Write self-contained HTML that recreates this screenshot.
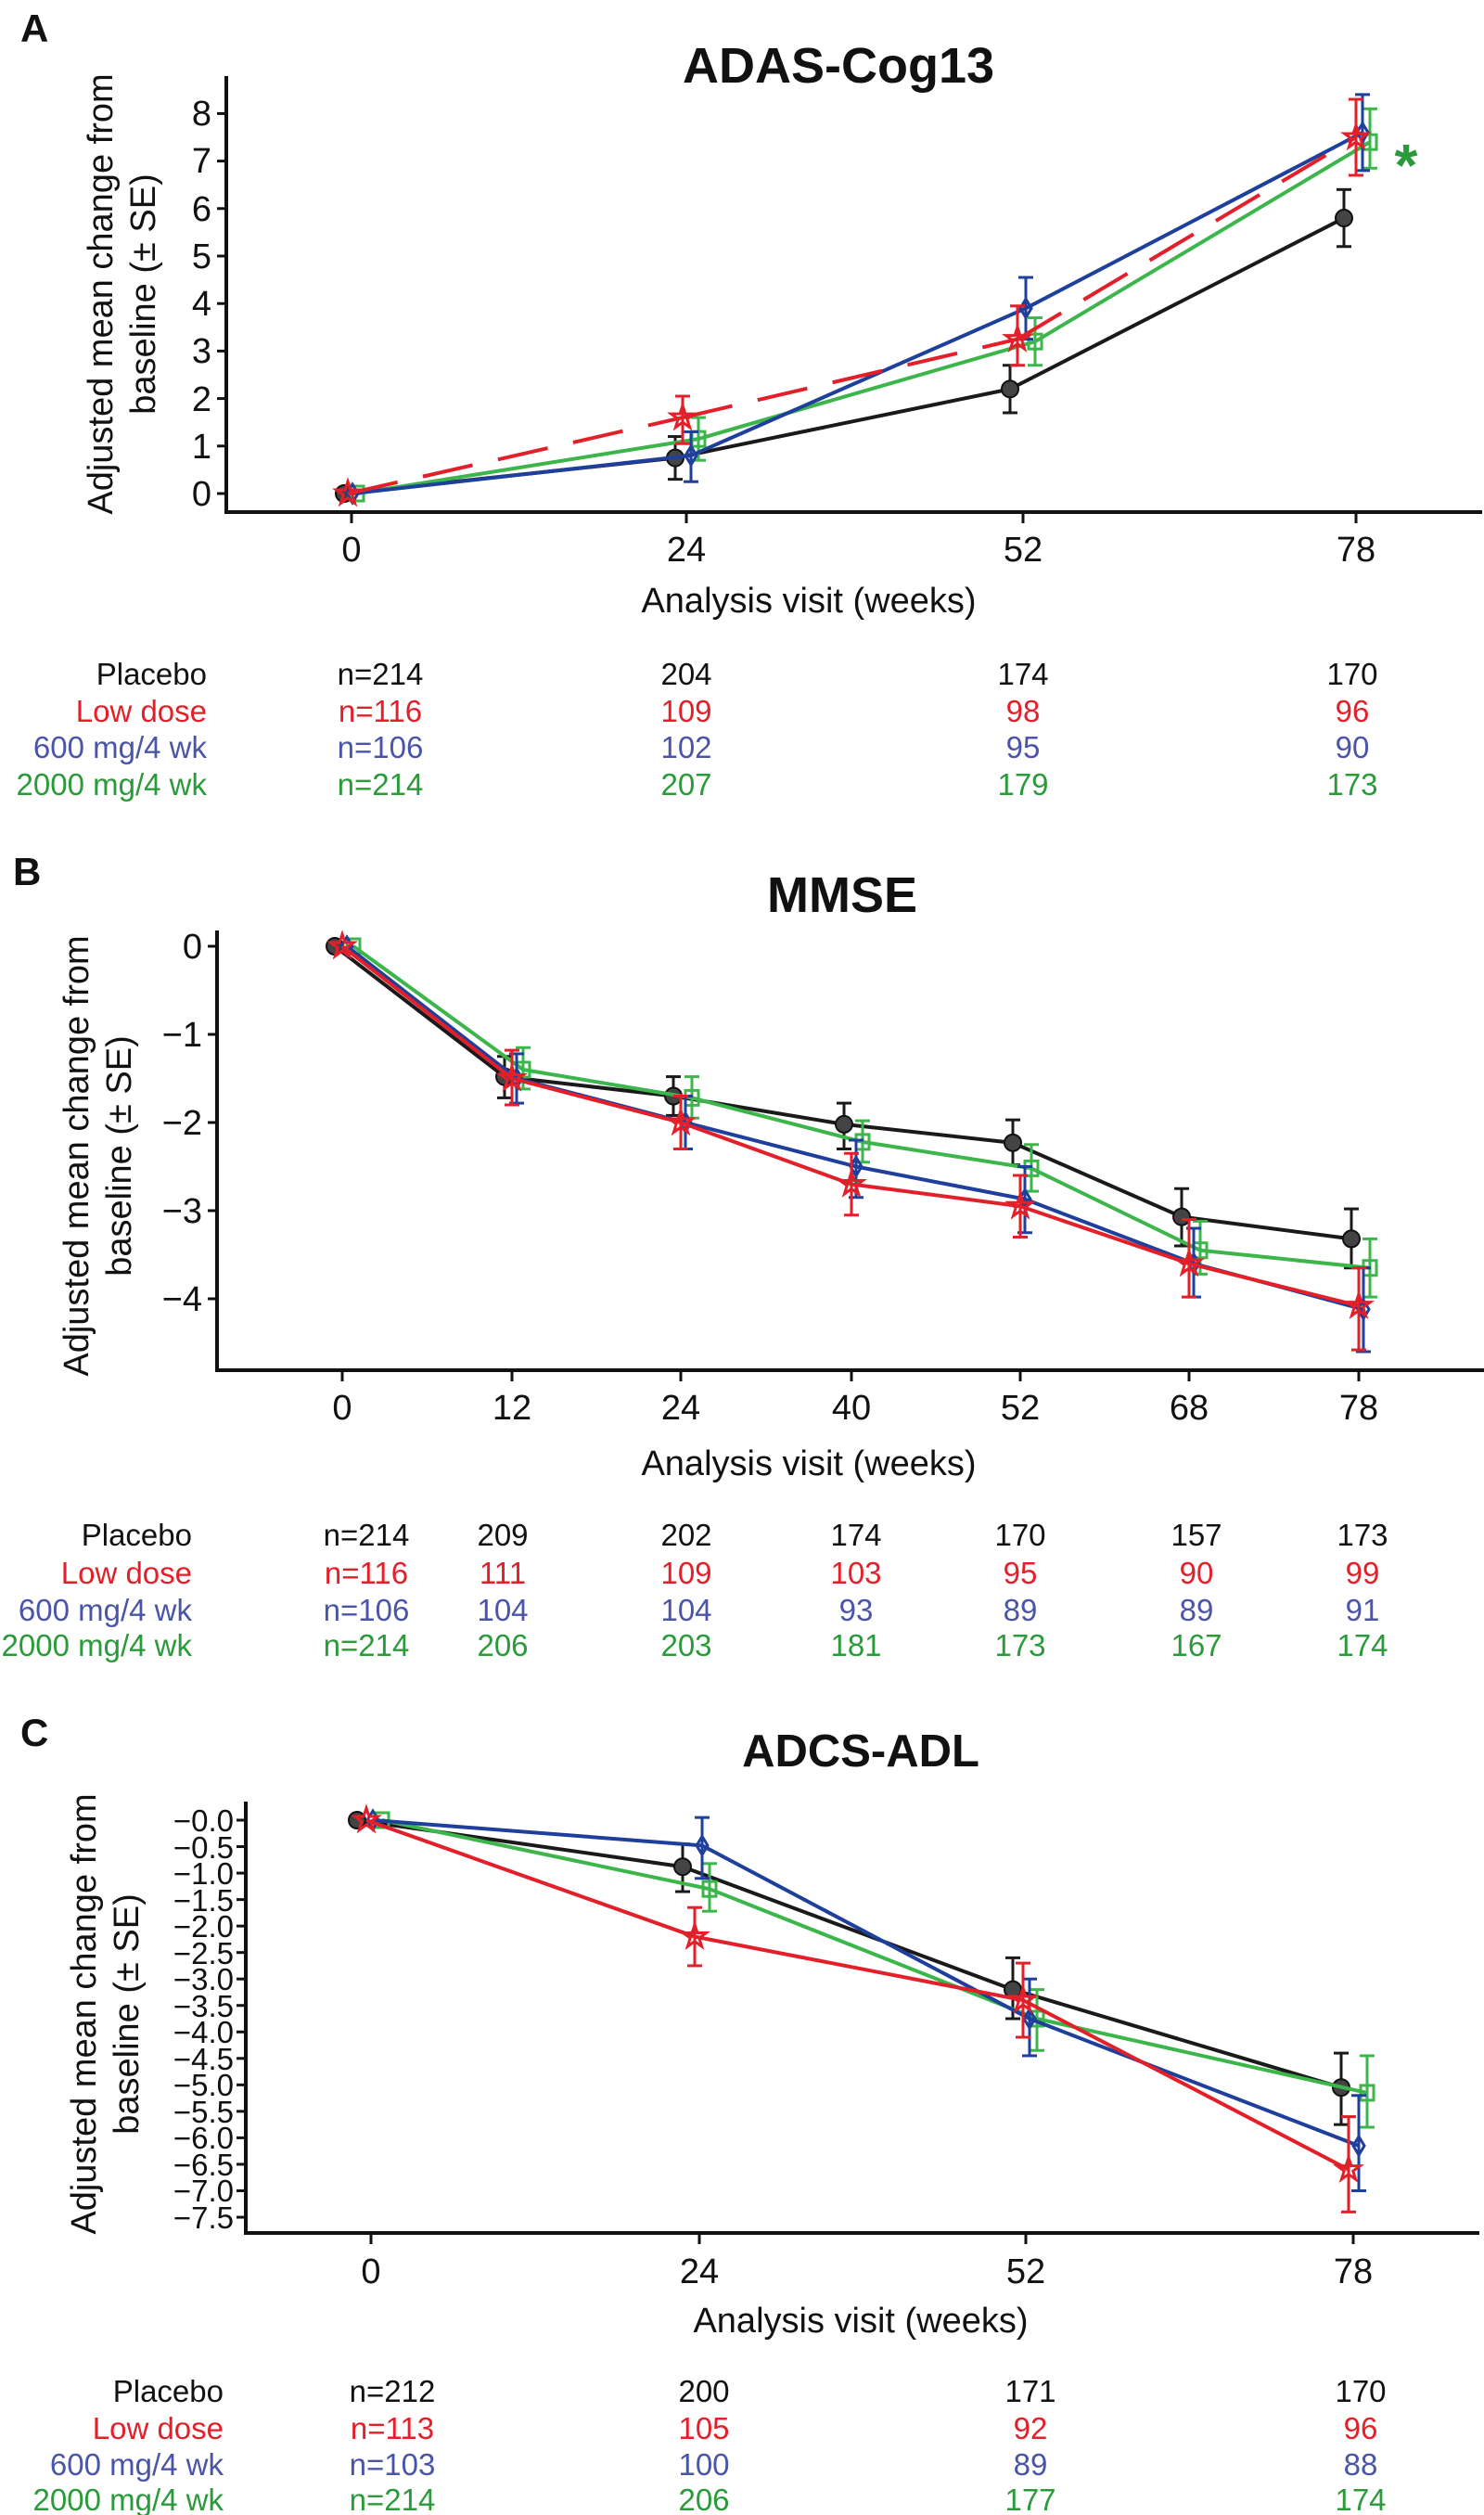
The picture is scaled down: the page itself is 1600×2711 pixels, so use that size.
<!DOCTYPE html>
<html><head><meta charset="utf-8"><style>
html,body{margin:0;padding:0;background:#fff}
svg{display:block}
text{font-family:"Liberation Sans",Arial,sans-serif}
.t{font-size:38px;fill:#111}
.tab{font-size:33px}
.k{fill:#111}.r{fill:#e3202a}.b{fill:#4a55a8}.g{fill:#2a9a3a}
.ttl{font-size:54px;font-weight:bold;fill:#111}
.lbl{font-size:42px;font-weight:bold;fill:#111}
</style></head><body>
<svg id="s" width="1600" height="2711" xmlns="http://www.w3.org/2000/svg">
<!-- Panel A -->
<text class="lbl" x="22" y="45">A</text>
<text class="ttl" x="904" y="89" text-anchor="middle">ADAS-Cog13</text>
<g class="t" text-anchor="end">
<text x="228" y="545">0</text><text x="228" y="494">1</text><text x="228" y="443">2</text><text x="228" y="391">3</text><text x="228" y="340">4</text><text x="228" y="289">5</text><text x="228" y="238">6</text><text x="228" y="186">7</text><text x="228" y="135">8</text>
</g>
<g class="t" text-anchor="middle">
<text x="379" y="605">0</text><text x="740" y="605">24</text><text x="1103" y="605">52</text><text x="1462" y="605">78</text>
<text x="872" y="660">Analysis visit (weeks)</text>
</g>
<g class="t" text-anchor="middle">
<text transform="translate(121,317) rotate(-90)">Adjusted mean change from</text>
<text transform="translate(167,317) rotate(-90)">baseline (± SE)</text>
</g>
<g class="tab">
<text class="k" x="223" y="738" text-anchor="end">Placebo</text>
<text class="r" x="223" y="778" text-anchor="end">Low dose</text>
<text class="b" x="223" y="817" text-anchor="end">600 mg/4 wk</text>
<text class="g" x="223" y="857" text-anchor="end">2000 mg/4 wk</text>
<g text-anchor="middle">
<text class="k" x="410" y="738">n=214</text><text class="k" x="740" y="738">204</text><text class="k" x="1103" y="738">174</text><text class="k" x="1458" y="738">170</text>
<text class="r" x="410" y="778">n=116</text><text class="r" x="740" y="778">109</text><text class="r" x="1103" y="778">98</text><text class="r" x="1458" y="778">96</text>
<text class="b" x="410" y="817">n=106</text><text class="b" x="740" y="817">102</text><text class="b" x="1103" y="817">95</text><text class="b" x="1458" y="817">90</text>
<text class="g" x="410" y="857">n=214</text><text class="g" x="740" y="857">207</text><text class="g" x="1103" y="857">179</text><text class="g" x="1458" y="857">173</text>
</g></g>
<text x="1516" y="200" font-size="64" font-weight="bold" fill="#2a9a3a" text-anchor="middle">*</text>

<!-- Panel B -->
<text class="lbl" x="14" y="954">B</text>
<text class="ttl" x="908" y="983" text-anchor="middle">MMSE</text>
<g class="t" text-anchor="end">
<text x="218" y="1033">0</text><text x="218" y="1128">−1</text><text x="218" y="1223">−2</text><text x="218" y="1318">−3</text><text x="218" y="1413">−4</text>
</g>
<g class="t" text-anchor="middle">
<text x="369" y="1530">0</text><text x="552" y="1530">12</text><text x="734" y="1530">24</text><text x="918" y="1530">40</text><text x="1100" y="1530">52</text><text x="1282" y="1530">68</text><text x="1465" y="1530">78</text>
<text x="872" y="1590">Analysis visit (weeks)</text>
<text transform="translate(95,1246) rotate(-90)">Adjusted mean change from</text>
<text transform="translate(141,1246) rotate(-90)">baseline (± SE)</text>
</g>
<g class="tab">
<text class="k" x="207" y="1666" text-anchor="end">Placebo</text>
<text class="r" x="207" y="1707" text-anchor="end">Low dose</text>
<text class="b" x="207" y="1747" text-anchor="end">600 mg/4 wk</text>
<text class="g" x="207" y="1785" text-anchor="end">2000 mg/4 wk</text>
<g text-anchor="middle">
<text class="k" x="395" y="1666">n=214</text><text class="k" x="542" y="1666">209</text><text class="k" x="740" y="1666">202</text><text class="k" x="923" y="1666">174</text><text class="k" x="1100" y="1666">170</text><text class="k" x="1290" y="1666">157</text><text class="k" x="1469" y="1666">173</text>
<text class="r" x="395" y="1707">n=116</text><text class="r" x="542" y="1707">111</text><text class="r" x="740" y="1707">109</text><text class="r" x="923" y="1707">103</text><text class="r" x="1100" y="1707">95</text><text class="r" x="1290" y="1707">90</text><text class="r" x="1469" y="1707">99</text>
<text class="b" x="395" y="1747">n=106</text><text class="b" x="542" y="1747">104</text><text class="b" x="740" y="1747">104</text><text class="b" x="923" y="1747">93</text><text class="b" x="1100" y="1747">89</text><text class="b" x="1290" y="1747">89</text><text class="b" x="1469" y="1747">91</text>
<text class="g" x="395" y="1785">n=214</text><text class="g" x="542" y="1785">206</text><text class="g" x="740" y="1785">203</text><text class="g" x="923" y="1785">181</text><text class="g" x="1100" y="1785">173</text><text class="g" x="1290" y="1785">167</text><text class="g" x="1469" y="1785">174</text>
</g></g>

<!-- Panel C -->
<text class="lbl" x="22" y="1882">C</text>
<text class="ttl" x="928" y="1904" text-anchor="middle" style="font-size:49px">ADCS-ADL</text>
<g font-size="33" fill="#111" text-anchor="end">
<text x="252" y="1974">−0.0</text><text x="252" y="2003">−0.5</text><text x="252" y="2031">−1.0</text><text x="252" y="2060">−1.5</text><text x="252" y="2088">−2.0</text><text x="252" y="2117">−2.5</text><text x="252" y="2145">−3.0</text><text x="252" y="2174">−3.5</text><text x="252" y="2202">−4.0</text><text x="252" y="2231">−4.5</text><text x="252" y="2259">−5.0</text><text x="252" y="2288">−5.5</text><text x="252" y="2316">−6.0</text><text x="252" y="2345">−6.5</text><text x="252" y="2373">−7.0</text><text x="252" y="2402">−7.5</text>
</g>
<g class="t" text-anchor="middle">
<text x="400" y="2461">0</text><text x="754" y="2461">24</text><text x="1106" y="2461">52</text><text x="1459" y="2461">78</text>
<text x="928" y="2514">Analysis visit (weeks)</text>
<text transform="translate(103,2171) rotate(-90)">Adjusted mean change from</text>
<text transform="translate(149,2171) rotate(-90)">baseline (± SE)</text>
</g>
<g class="tab">
<text class="k" x="241" y="2589" text-anchor="end">Placebo</text>
<text class="r" x="241" y="2629" text-anchor="end">Low dose</text>
<text class="b" x="241" y="2668" text-anchor="end">600 mg/4 wk</text>
<text class="g" x="241" y="2706" text-anchor="end">2000 mg/4 wk</text>
<g text-anchor="middle">
<text class="k" x="423" y="2589">n=212</text><text class="k" x="759" y="2589">200</text><text class="k" x="1111" y="2589">171</text><text class="k" x="1467" y="2589">170</text>
<text class="r" x="423" y="2629">n=113</text><text class="r" x="759" y="2629">105</text><text class="r" x="1111" y="2629">92</text><text class="r" x="1467" y="2629">96</text>
<text class="b" x="423" y="2668">n=103</text><text class="b" x="759" y="2668">100</text><text class="b" x="1111" y="2668">89</text><text class="b" x="1467" y="2668">88</text>
<text class="g" x="423" y="2706">n=214</text><text class="g" x="759" y="2706">206</text><text class="g" x="1111" y="2706">177</text><text class="g" x="1467" y="2706">174</text>
</g></g>
<g id="plots"></g>
</svg>
<script>
var NS="http://www.w3.org/2000/svg",P=document.getElementById("plots");
function el(t,a){var e=document.createElementNS(NS,t);for(var k in a)e.setAttribute(k,a[k]);P.appendChild(e);return e;}
function line(x1,y1,x2,y2,c,w,d){var a={x1:x1,y1:y1,x2:x2,y2:y2,stroke:c,"stroke-width":w};if(d)a["stroke-dasharray"]=d;el("line",a);}
var C={k:"#1a1a1a",r:"#e3202a",b:"#1f3f9c",g:"#3cb54a"};
function marker(m,x,y,c){
 if(m=="o")el("circle",{cx:x,cy:y,r:9,fill:"#444",stroke:"#111","stroke-width":2});
 else if(m=="s")el("rect",{x:x-7,y:y-8,width:14,height:16,fill:"none",stroke:c,"stroke-width":3});
 else if(m=="d")el("polygon",{points:(x)+","+(y-10)+" "+(x+6)+","+y+" "+x+","+(y+10)+" "+(x-6)+","+y,fill:"none",stroke:c,"stroke-width":3});
 else{var p=[];for(var i=0;i<10;i++){var r=i%2?5:13,a=-Math.PI/2+i*Math.PI/5;p.push((x+r*Math.cos(a)).toFixed(1)+","+(y+r*Math.sin(a)).toFixed(1));}el("polygon",{points:p.join(" "),fill:"none",stroke:c,"stroke-width":3});}
}
function series(s,ym){
 var c=C[s.c];
 for(var i=0;i<s.p.length-1;i++){var a=s.p[i],b=s.p[i+1];line(a[0],ym(a[1]),b[0],ym(b[1]),c,4,s.d);}
 s.p.forEach(function(q){if(q.length>2){var y1=ym(q[2]),y2=ym(q[3]);line(q[0],y1,q[0],y2,c,3);line(q[0]-8,y1,q[0]+8,y1,c,3);line(q[0]-8,y2,q[0]+8,y2,c,3);}});
 s.p.forEach(function(q){marker(s.m,q[0],ym(q[1]),c);});
}
function axes(x0,yt,yb,xr,yticks,xticks){
 line(x0,yt,x0,yb+2,"#111",4);line(x0-2,yb,xr,yb,"#111",4);
 yticks.forEach(function(y){line(x0-10,y,x0,y,"#111",3);});
 xticks.forEach(function(x){line(x,yb,x,yb+12,"#111",3);});
}
// A
var yA=function(v){return 532-51.2*v};
axes(244,82,552,1598,[0,1,2,3,4,5,6,7,8].map(yA),[379,740,1103,1462]);
series({c:"k",m:"o",p:[[371,0],[728,0.75,0.3,1.2],[1089,2.2,1.7,2.7],[1449,5.8,5.2,6.4]]},yA);
series({c:"g",m:"s",p:[[385,0],[753,1.15,0.7,1.6],[1116,3.2,2.7,3.7],[1477,7.4,6.85,8.1]]},yA);
series({c:"b",m:"d",p:[[380,0],[745,0.8,0.25,1.3],[1106,3.9,3.25,4.55],[1469,7.6,6.8,8.4]]},yA);
series({c:"r",m:"*",d:"55 28",p:[[375,0],[736,1.6,1.05,2.05],[1097,3.25,2.7,3.95],[1462,7.5,6.7,8.3]]},yA);
// B
var yB=function(v){return 1020-95*v};
axes(234,1003,1477,1600,[0,-1,-2,-3,-4].map(yB),[369,552,734,918,1100,1282,1465]);
var xb=[369,552,734,918,1100,1282,1465];
function pts(xs,off,v){return v.map(function(q,i){return [xs[i]+off].concat(q);});}
series({c:"k",m:"o",p:pts(xb,-8,[[0],[-1.48,-1.25,-1.72],[-1.7,-1.48,-1.92],[-2.02,-1.78,-2.3],[-2.23,-1.97,-2.48],[-3.07,-2.75,-3.4],[-3.32,-2.98,-3.65]])},yB);
series({c:"g",m:"s",p:pts(xb,12,[[0],[-1.4,-1.15,-1.62],[-1.72,-1.48,-1.95],[-2.22,-1.98,-2.45],[-2.52,-2.25,-2.78],[-3.45,-3.12,-3.72],[-3.65,-3.32,-3.98]])},yB);
series({c:"b",m:"d",p:pts(xb,5,[[0],[-1.5,-1.22,-1.78],[-2.0,-1.7,-2.3],[-2.5,-2.2,-2.85],[-2.87,-2.5,-3.25],[-3.6,-3.2,-3.98],[-4.12,-3.65,-4.6]])},yB);
series({c:"r",m:"*",p:pts(xb,0,[[0],[-1.5,-1.18,-1.8],[-2.0,-1.7,-2.3],[-2.7,-2.35,-3.05],[-2.95,-2.6,-3.3],[-3.6,-3.1,-3.98],[-4.08,-3.65,-4.58]])},yB);
// C
var yC=function(v){return 1962-57.07*v};
var ct=[];for(var i=0;i<16;i++)ct.push(yC(-i*0.5));
axes(265,1942,2407,1595,ct,[400,754,1106,1459]);
series({c:"k",m:"o",p:[[385,0],[736,-0.88,-0.45,-1.35],[1092,-3.2,-2.6,-3.75],[1446,-5.05,-4.4,-5.75]]},yC);
series({c:"g",m:"s",p:[[412,0],[765,-1.3,-0.82,-1.72],[1118,-3.75,-3.2,-4.35],[1474,-5.15,-4.45,-5.8]]},yC);
series({c:"b",m:"d",p:[[402,0],[757,-0.48,0.05,-1.1],[1110,-3.75,-3.0,-4.45],[1465,-6.15,-5.2,-7.0]]},yC);
series({c:"r",m:"*",p:[[395,0],[749,-2.2,-1.65,-2.75],[1103,-3.4,-2.7,-4.1],[1454,-6.6,-5.6,-7.4]]},yC);
</script>
</body></html>
